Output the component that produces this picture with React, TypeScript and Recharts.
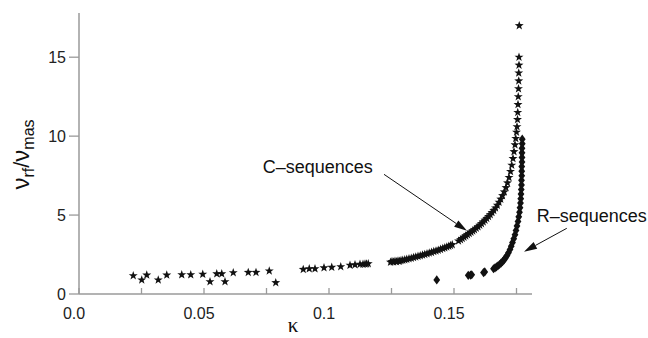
import { ScatterChart, Scatter, XAxis, YAxis, ReferenceLine, ReferenceDot, Label } from "recharts";

const FONT = "'Liberation Sans', Arial, Helvetica, sans-serif";
const AXIS = "#9a9a9a";
const INK = "#111";

// C-sequences (stars)
const cSeqKappa = [
  0.0217, 0.0251, 0.0271, 0.0317, 0.0351, 0.0411, 0.0447, 0.0495, 0.0524, 0.0551, 0.0571, 0.0584, 0.0617, 0.0677, 0.0708, 0.0761, 0.0787,
  0.0897, 0.0921, 0.0944, 0.098, 0.1011, 0.1047, 0.1084, 0.1104, 0.1124, 0.1136, 0.1144, 0.115, 0.1157,
  0.1246, 0.1252, 0.1258, 0.1264, 0.127, 0.1276, 0.1282, 0.1288, 0.1295, 0.1303, 0.1311, 0.132, 0.1329, 0.1338, 0.1347, 0.1356,
  0.1365, 0.1374, 0.1383, 0.1392, 0.1401, 0.141, 0.1419, 0.1428, 0.1437, 0.1446, 0.1455, 0.1463, 0.1471, 0.1479, 0.1486, 0.1493,
  0.1518, 0.1526, 0.1533, 0.154, 0.1547, 0.1554, 0.1561, 0.1568, 0.1575, 0.1582, 0.1589, 0.1596, 0.1603, 0.161, 0.1617, 0.1624,
  0.1631, 0.1638, 0.1645, 0.1652, 0.1659, 0.1666, 0.1673, 0.168, 0.1687, 0.1694, 0.1701, 0.1708, 0.1714, 0.172, 0.1726, 0.1731,
  0.1736, 0.174, 0.1744, 0.1747, 0.175, 0.1752, 0.1754, 0.1755, 0.1756, 0.1757, 0.1758, 0.1759, 0.1759, 0.176, 0.176, 0.1761,
];
const cSeqRatio = [
  1.16, 0.89, 1.2, 0.89, 1.2, 1.22, 1.22, 1.25, 0.78, 1.28, 1.28, 0.78, 1.35, 1.37, 1.37, 1.46, 0.72,
  1.56, 1.6, 1.6, 1.66, 1.69, 1.73, 1.82, 1.85, 1.88, 1.89, 1.9, 1.91, 1.92,
  2.02, 2.06, 2.03, 2.08, 2.05, 2.1, 2.07, 2.12, 2.14, 2.17, 2.2, 2.24, 2.27, 2.31, 2.35, 2.39,
  2.43, 2.47, 2.51, 2.55, 2.6, 2.64, 2.69, 2.73, 2.78, 2.83, 2.88, 2.93, 2.98, 3.03, 3.08, 3.13,
  3.36, 3.44, 3.52, 3.6, 3.68, 3.76, 3.84, 3.92, 4.0, 4.08, 4.17, 4.26, 4.36, 4.46, 4.57, 4.68,
  4.79, 4.91, 5.03, 5.16, 5.3, 5.45, 5.62, 5.81, 6.01, 6.23, 6.47, 6.74, 7.04, 7.38, 7.76, 8.16,
  8.58, 9.02, 9.45, 9.85, 10.25, 10.6, 11.05, 11.5, 12.0, 12.5, 13.0, 13.5, 14.0, 14.5, 15.0, 17.0,
];

// R-sequences (diamonds)
const rSeqKappa = [
  0.1431, 0.1557, 0.1566, 0.1571, 0.1618, 0.1623,
  0.1658, 0.1664, 0.167, 0.1676, 0.1682, 0.1688, 0.1694, 0.17, 0.1706, 0.1712, 0.1718, 0.1724, 0.1729, 0.1734,
  0.1739, 0.1744, 0.1748, 0.1752, 0.1756, 0.1759, 0.1762, 0.1764, 0.1766, 0.1767, 0.1768, 0.1769, 0.177, 0.177,
  0.1771, 0.1771, 0.1771, 0.1772, 0.1772, 0.1772, 0.1772, 0.1773, 0.1773,
];
const rSeqRatio = [
  0.89, 1.18, 1.2, 1.22, 1.36, 1.4,
  1.6, 1.66, 1.72, 1.79, 1.87, 1.95, 2.05, 2.16, 2.29, 2.44, 2.62, 2.82, 3.03, 3.26,
  3.5, 3.76, 4.03, 4.31, 4.6, 4.89, 5.18, 5.47, 5.76, 6.04, 6.33, 6.62, 6.91, 7.2,
  7.49, 7.78, 8.07, 8.36, 8.65, 8.94, 9.23, 9.52, 9.81,
];

const xTicks = [0, 0.025, 0.05, 0.075, 0.1, 0.125, 0.15, 0.175];
const xTickLabels = ["0.0", "", "0.05", "", "0.1", "", "0.15", ""];
const yTicks = [0, 5, 10, 15];

const cSeq = cSeqKappa.map((kappa, i) => ({ kappa, ratio: cSeqRatio[i] }));
const rSeq = rSeqKappa.map((kappa, i) => ({ kappa, ratio: rSeqRatio[i] }));

function Star({ cx, cy }: any) {
  const pts: string[] = [];
  for (let i = 0; i < 10; i++) {
    const r = i % 2 === 0 ? 4.7 : 1.9;
    const a = -Math.PI / 2 + (i * Math.PI) / 5;
    pts.push(`${cx + r * Math.cos(a)},${cy + r * Math.sin(a)}`);
  }
  return <polygon points={pts.join(" ")} fill={INK} />;
}

function Diamond({ cx, cy }: any) {
  return <polygon points={`${cx},${cy - 4.6} ${cx + 3.4},${cy} ${cx},${cy + 4.6} ${cx - 3.4},${cy}`} fill={INK} />;
}

function XTick({ x, y, index }: any) {
  const label = xTickLabels[index];
  return (
    <g>
      <line x1={x} y1={y} x2={x} y2={y - 6} stroke={AXIS} strokeWidth={1.3} />
      {label && (
        <text x={x - 5} y={y + 25} textAnchor="middle" fontSize={16} fontFamily={FONT} fill="#222">
          {label}
        </text>
      )}
    </g>
  );
}

function Arrow({ x1, y1, x2, y2 }: any) {
  const ang = Math.atan2(y2 - y1, x2 - x1);
  const len = 13;
  const w = 3.8;
  const bx = x2 - len * Math.cos(ang);
  const by = y2 - len * Math.sin(ang);
  const pts = `${x2},${y2} ${bx + w * Math.sin(ang)},${by - w * Math.cos(ang)} ${bx - w * Math.sin(ang)},${by + w * Math.cos(ang)}`;
  return (
    <g>
      <line x1={x1} y1={y1} x2={bx} y2={by} stroke={INK} strokeWidth={1} />
      <polygon points={pts} fill={INK} />
    </g>
  );
}

function Note(text: string) {
  return ({ cx, cy }: any) => (
    <text x={cx} y={cy} fontSize={18} fontFamily={FONT} fill="#111">
      {text}
    </text>
  );
}

function YTitle({ viewBox }: any) {
  const cx = viewBox.x + 29;
  const cy = viewBox.y + viewBox.height / 2 + 1;
  return (
    <text x={cx} y={cy} transform={`rotate(-90, ${cx}, ${cy})`} textAnchor="middle" fontFamily={FONT} fill="#111">
      <tspan fontSize={24}>ν</tspan>
      <tspan fontSize={16} dy={5}>rf</tspan>
      <tspan fontSize={22} dy={-5}>/</tspan>
      <tspan fontSize={24}>ν</tspan>
      <tspan fontSize={16} dy={5}>mas</tspan>
    </text>
  );
}

function XTitle({ viewBox }: any) {
  return (
    <text x={viewBox.x + 214} y={viewBox.y + 38} textAnchor="middle" fontSize={21} fontFamily="'Liberation Serif', serif" fill="#111">
      κ
    </text>
  );
}

export default function App() {
  return (
    <div style={{ position: "absolute", left: 0, top: 0, width: 648, height: 338, background: "#fff" }}>
      <ScatterChart width={648} height={338} margin={{ top: 13, right: 116, bottom: 0, left: 0 }}>
        <XAxis
          type="number"
          dataKey="kappa"
          domain={[0, 0.1812]}
          ticks={xTicks}
          interval={0}
          height={44}
          tickSize={0}
          tickMargin={0}
          tickLine={false}
          tick={<XTick />}
          axisLine={{ stroke: AXIS, strokeWidth: 1.5 }}
        >
          <Label content={(p: any) => <XTitle viewBox={p.viewBox} />} />
        </XAxis>
        <YAxis
          type="number"
          dataKey="ratio"
          domain={[0, 17.8]}
          ticks={yTicks}
          interval={0}
          width={79}
          tickSize={10}
          tickMargin={3}
          tick={{ fill: "#222", fontSize: 16, fontFamily: FONT }}
          tickLine={{ stroke: AXIS, strokeWidth: 1.3 }}
          axisLine={{ stroke: AXIS, strokeWidth: 1.5 }}
        >
          <Label content={(p: any) => <YTitle viewBox={p.viewBox} />} />
        </YAxis>
        <Scatter data={cSeq} shape={(p: any) => <Star cx={p.cx} cy={p.cy} />} isAnimationActive={false} />
        <Scatter data={rSeq} shape={(p: any) => <Diamond cx={p.cx} cy={p.cy} />} isAnimationActive={false} />
        <ReferenceLine
          segment={[{ x: 0.122, y: 7.58 }, { x: 0.1552, y: 4.0 }]}
          ifOverflow="visible"
          shape={(p: any) => <Arrow {...p} />}
        />
        <ReferenceLine
          segment={[{ x: 0.1951, y: 4.16 }, { x: 0.178, y: 2.68 }]}
          ifOverflow="visible"
          shape={(p: any) => <Arrow {...p} />}
        />
        <ReferenceDot x={0.0735} y={7.64} ifOverflow="visible" shape={Note("C–sequences")} />
        <ReferenceDot x={0.1831} y={4.59} ifOverflow="visible" shape={Note("R–sequences")} />
      </ScatterChart>
    </div>
  );
}
